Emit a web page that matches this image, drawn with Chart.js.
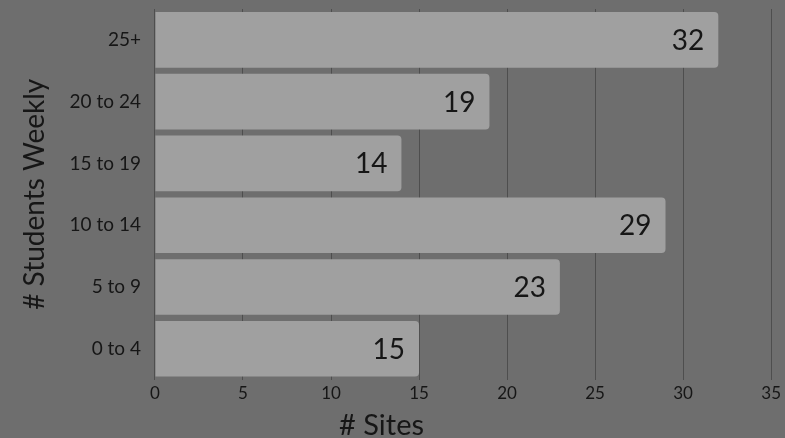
<!DOCTYPE html>
<html>
<head>
<meta charset="utf-8">
<script src="https://cdn.jsdelivr.net/npm/chart.js@4.4.1/dist/chart.umd.min.js"></script>
<style>
  html, body { margin: 0; padding: 0; background: #6e6e6e; }
  #wrap { width: 785px; height: 438px; }
</style>
</head>
<body>
<div id="wrap"><canvas id="c" width="785" height="438"></canvas></div>
<script>
const categories = ['25+', '20 to 24', '15 to 19', '10 to 14', '5 to 9', '0 to 4'];
const sites = [32, 19, 14, 29, 23, 15];
const xTitle = '# Sites';
const yTitle = '# Students Weekly';

const FONT = 'Lato, "Open Sans", sans-serif';
const TEXT = '#161616';

const bgPlugin = {
  id: 'bg',
  beforeDraw(chart) {
    const ctx = chart.ctx;
    ctx.save();
    ctx.fillStyle = '#6e6e6e';
    ctx.fillRect(0, 0, chart.width, chart.height);
    ctx.restore();
  }
};

const labelPlugin = {
  id: 'barLabels',
  afterDatasetsDraw(chart) {
    const ctx = chart.ctx;
    const meta = chart.getDatasetMeta(0);
    ctx.save();
    ctx.font = '28px ' + FONT;
    ctx.fillStyle = TEXT;
    ctx.textAlign = 'right';
    ctx.textBaseline = 'middle';
    meta.data.forEach((bar, i) => {
      ctx.fillText(String(chart.data.datasets[0].data[i]), bar.x - 14, bar.y + 1);
    });
    ctx.restore();
  }
};

const xTitlePlugin = {
  id: 'xTitle',
  afterDraw(chart) {
    const ctx = chart.ctx;
    ctx.save();
    ctx.font = '29px ' + FONT;
    ctx.fillStyle = TEXT;
    ctx.textAlign = 'center';
    ctx.textBaseline = 'middle';
    ctx.fillText(xTitle, chart.width / 2 - 11, chart.height - 12);
    ctx.restore();
  }
};

new Chart(document.getElementById('c'), {
  type: 'bar',
  data: {
    labels: categories,
    datasets: [{
      data: sites,
      backgroundColor: '#a0a0a0',
      borderRadius: 4,
      barPercentage: 0.9,
      categoryPercentage: 1.0
    }]
  },
  options: {
    indexAxis: 'y',
    responsive: false,
    animation: false,
    layout: { padding: { top: 9, right: 4, bottom: 30, left: 18 } },
    plugins: {
      legend: { display: false },
      tooltip: { enabled: false }
    },
    scales: {
      x: {
        min: 0,
        max: 35,
        ticks: { stepSize: 5, color: TEXT, font: { family: FONT, size: 17 }, padding: 4 },
        grid: { color: '#4e4e4e', lineWidth: 1, drawTicks: false },
        border: { display: false }
      },
      y: {
        ticks: { color: TEXT, font: { family: FONT, size: 19 }, padding: 14 },
        grid: { display: false, drawTicks: false },
        border: { display: false },
        title: { display: true, text: yTitle, color: TEXT, font: { family: FONT, size: 28 }, padding: { top: 0, bottom: 4 } },
        afterFit(scale) { scale.paddingTop = 0; scale.paddingBottom = 0; }
      }
    }
  },
  plugins: [bgPlugin, labelPlugin, xTitlePlugin]
});
</script>
</body>
</html>
